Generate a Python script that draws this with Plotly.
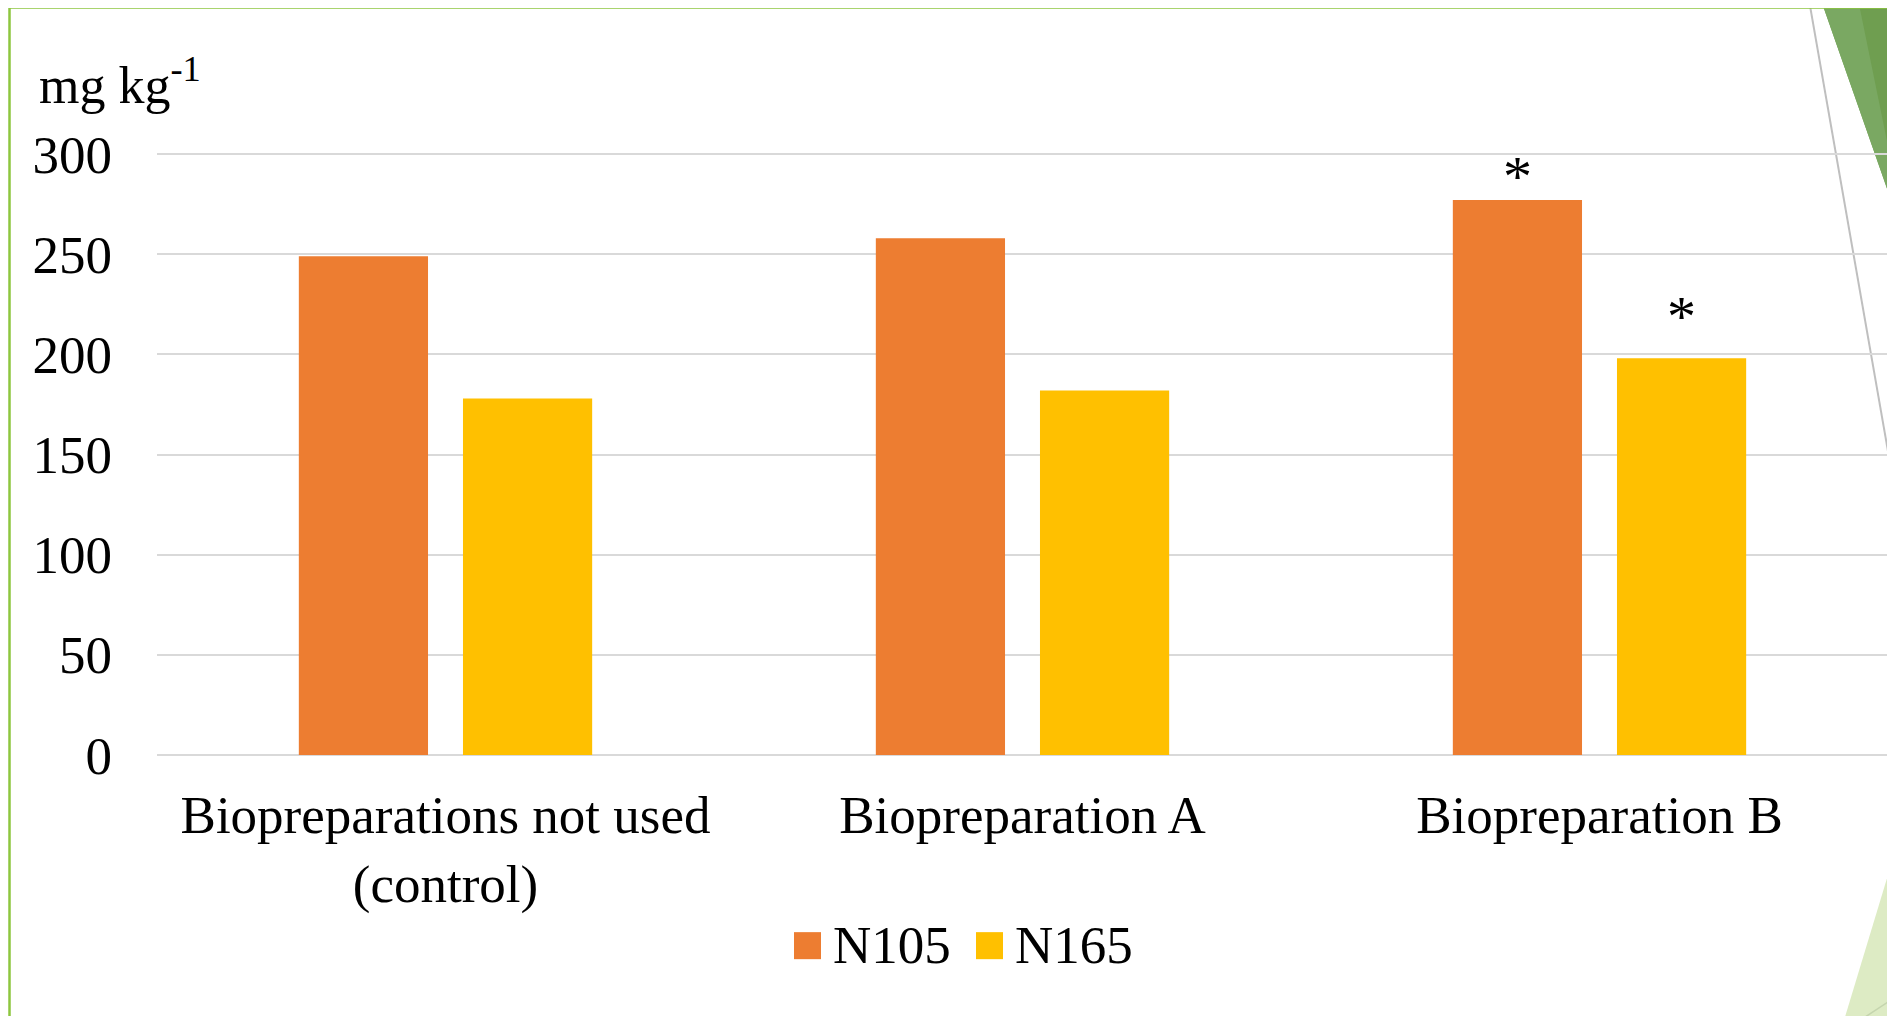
import plotly.graph_objects as go

# ---- data ----
categories = ["Biopreparations not used<br>(control)", "Biopreparation A", "Biopreparation B"]
series_names = ["N105", "N165"]
n105 = [249, 258, 277]
n165 = [178, 182, 198]
series_values = [n105, n165]
series_colors = ["#ED7D31", "#FFC000"]
y_ticks = [0, 50, 100, 150, 200, 250, 300]
unit_label = "mg kg<sup>-1</sup>"
# significance marks: (series index, category index)
signif = [(0, 2), (1, 2)]

# ---- layout geometry (page pixels; page body has 8px margin) ----
OFF = 8
FW, FH = 1895 - OFF, 1024 - 2 * OFF
Y_TOP = 301
PLOT_L, PLOT_R, PLOT_B = 157, 1888, 755
PX_PER_UNIT = (755 - 154.5) / 300
PH = PX_PER_UNIT * Y_TOP
PW = PLOT_R - PLOT_L
ML = PLOT_L - OFF
MR = FW - (PLOT_R - OFF)
MB = FH - (PLOT_B - OFF)
MT = FH - MB - PH
BARGAP, GROUPGAP = 0.431, 0.213
FONT = "Liberation Serif, Times New Roman, serif"


def px(x):
    return (x - PLOT_L) / PW


def py(y):
    return (PLOT_B - y) / PH


fig = go.Figure()
for name, vals, col in zip(series_names, series_values, series_colors):
    fig.add_trace(go.Bar(x=categories, y=vals, name=name, marker_color=col,
                         marker_line_width=0, showlegend=False))

shapes = []
# decorative slide elements
shapes.append(dict(type="path", xref="paper", yref="paper", layer="below",
                   path=f"M{px(1819)},{py(-5)} L{px(1900)},{py(-5)} L{px(1900)},{py(226)} Z",
                   fillcolor="#6F9E50", line_width=0))
shapes.append(dict(type="path", xref="paper", yref="paper", layer="below",
                   path=f"M{px(1819)},{py(-5)} L{px(1857)},{py(-5)} L{px(1900)},{py(205)} L{px(1900)},{py(226)} Z",
                   fillcolor="#7AA862", line_width=0))
shapes.append(dict(type="line", xref="paper", yref="paper", layer="below",
                   x0=px(1808), y0=py(-5), x1=px(1900), y1=py(520),
                   line=dict(color="#BFBFBF", width=2)))
shapes.append(dict(type="path", xref="paper", yref="paper", layer="below",
                   path=f"M{px(1897)},{py(845)} L{px(1841)},{py(1030)} L{px(1900)},{py(1030)} Z",
                   fillcolor="#DDEBC4", line_width=0))
shapes.append(dict(type="line", xref="paper", yref="paper", layer="below",
                   x0=px(1897), y0=py(996), x1=px(1851), y1=py(1026),
                   line=dict(color="#C5D5AE", width=1.5)))
# green frame
shapes.append(dict(type="path", xref="paper", yref="paper", layer="above",
                   path=f"M{px(9.5)},{py(1030)} L{px(9.5)},{py(8)} L{px(1900)},{py(8)}",
                   line=dict(color="#8DC63F", width=2.5)))

annotations = []
# legend (manual, larger swatches)
leg_sq = [794, 976]
for i, (name, col) in enumerate(zip(series_names, series_colors)):
    x0 = leg_sq[i]
    shapes.append(dict(type="rect", xref="paper", yref="paper",
                       x0=px(x0), x1=px(x0 + 27), y0=py(959), y1=py(932),
                       fillcolor=col, line_width=0))
    annotations.append(dict(xref="paper", yref="paper", x=px(x0 + 37), y=py(945),
                            xanchor="left", yanchor="middle", showarrow=False,
                            text=name, font=dict(family=FONT, size=53, color="black")))

# unit label
annotations.append(dict(xref="paper", yref="paper", x=px(37), y=py(82),
                        xanchor="left", yanchor="middle", showarrow=False,
                        text=unit_label, font=dict(family=FONT, size=52, color="black")))

# significance asterisks
slot = (1 - BARGAP) / 2
ast_shift = [24, 42]
for k, (si, ci) in enumerate(signif):
    xc = ci + (si - 0.5) * slot
    annotations.append(dict(xref="x", yref="y", x=xc, y=series_values[si][ci],
                            xanchor="center", yanchor="middle", yshift=ast_shift[k],
                            showarrow=False, text="*",
                            font=dict(family=FONT, size=58, color="black")))

fig.update_layout(
    width=FW, height=FH,
    margin=dict(l=ML, r=MR, t=MT, b=MB, pad=0),
    paper_bgcolor="white", plot_bgcolor="rgba(0,0,0,0)",
    barmode="group", bargap=BARGAP, bargroupgap=GROUPGAP,
    showlegend=False,
    font=dict(family=FONT, size=53, color="black"),
    shapes=shapes, annotations=annotations,
)
fig.update_xaxes(type="category", showgrid=False, zeroline=False, showline=False,
                 ticks="", tickfont=dict(family=FONT, size=53, color="black"),
                 ticklabelstandoff=24)
fig.update_yaxes(range=[0, Y_TOP], tickvals=y_ticks, showgrid=True,
                 gridcolor="#D9D9D9", gridwidth=1.5, zeroline=True,
                 zerolinecolor="#D9D9D9", zerolinewidth=1.5, showline=False,
                 ticks="", tickfont=dict(family=FONT, size=53, color="black"),
                 ticklabelstandoff=44)

fig.write_html("out.html")
